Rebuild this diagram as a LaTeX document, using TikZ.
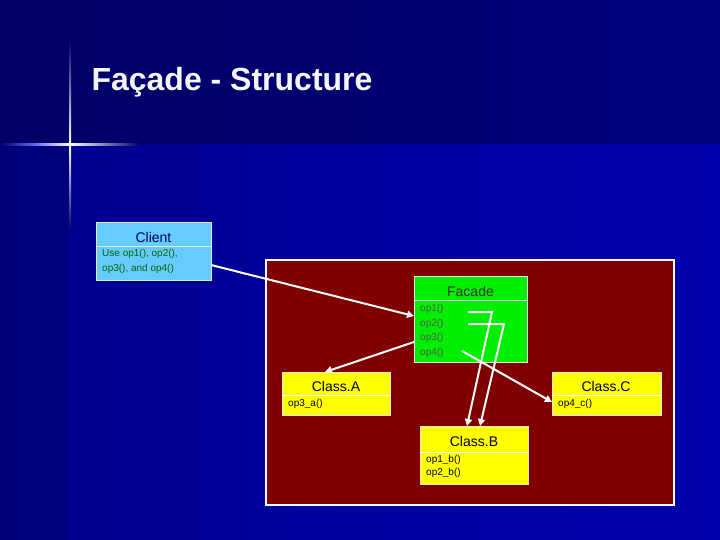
\documentclass[tikz,border=0pt]{standalone}
\usepackage{fontspec}
\setmainfont{Liberation Sans}
\usetikzlibrary{arrows.meta}
\definecolor{navy}{HTML}{000066}
\definecolor{bluebg}{HTML}{0000A0}
\definecolor{frame}{HTML}{800000}
\definecolor{clientc}{HTML}{66CCFF}
\definecolor{greenc}{HTML}{00EE00}
\definecolor{yell}{HTML}{FFFF00}
\tikzset{
  box/.style={draw=white!80!gray, line width=0.8pt},
  hdr/.style={font=\fontsize{14}{16}\selectfont, anchor=center},
  ops/.style={font=\fontsize{10}{14.5}\selectfont, anchor=north west, align=left, inner sep=0pt},
  conn/.style={draw=white, line width=2pt, -{Triangle[length=7pt,width=7pt]}},
}
\begin{document}
\begin{tikzpicture}[x=1pt,y=-1pt]
\useasboundingbox (0,0) rectangle (720,540);
\shade[left color=navy, right color=navy!85!blue] (0,0) rectangle (720,145);
\shade[left color=bluebg!70!navy, right color=bluebg!85!blue] (0,145) rectangle (720,540);
\fill[navy!80!black, opacity=0.35] (0,145) rectangle (68,540);
\shade[left color=navy, right color=white, middle color=blue!60] (0,144) rectangle (70,146);
\shade[left color=white, right color=navy] (70,144) rectangle (140,146);
\shade[top color=navy, bottom color=white] (69,40) rectangle (71,145);
\shade[top color=white, bottom color=navy] (69,145) rectangle (71,230);
\node[anchor=west, text=white!93!gray, font=\fontsize{32}{36}\selectfont\bfseries] (title) at (88,82) {Façade - Structure};
% frame
\node[draw=white, line width=2pt, fill=frame, minimum width=408, minimum height=245, anchor=north west, inner sep=0pt] (frm) at (265,259) {};
% client
\node[box, fill=clientc, minimum width=115, minimum height=58, anchor=north west, inner sep=0pt] (client) at (96,222) {};
\draw[white!80!gray] (96,246) -- (211,246);
\node[hdr, text=navy] (clientt) at (153.5,237) {Client};
\node[ops, text=green!40!black, font=\fontsize{10}{15}\selectfont] (clientb) at (102,249) {Use op1(), op2(),\\op3(), and op4()};
% facade
\node[box, fill=greenc, minimum width=113, minimum height=86, anchor=north west, inner sep=0pt] (fac) at (414,276) {};
\draw[white!80!gray] (414,300) -- (527,300);
\node[hdr, text=black!80] (fact) at (470.5,291) {Facade};
\node[ops, text=gray!70!black, font=\fontsize{10}{14.7}\selectfont] (facb) at (420,304) {op1()\\op2()\\op3()\\op4()};
% class A
\node[box, fill=yell, minimum width=108, minimum height=43, anchor=north west, inner sep=0pt] (ca) at (282,372) {};
\draw[white] (282,395) -- (390,395);
\node[hdr] (cat) at (336,386) {Class.A};
\node[ops] (cab) at (288,399) {op3\_a()};
% class C
\node[box, fill=yell, minimum width=109, minimum height=43, anchor=north west, inner sep=0pt] (cc) at (552,372) {};
\draw[white] (552,395) -- (661,395);
\node[hdr] (cct) at (606,386) {Class.C};
\node[ops] (ccb) at (558,399) {op4\_c()};
% class B
\node[box, fill=yell, minimum width=108, minimum height=58, anchor=north west, inner sep=0pt] (cb) at (420,426) {};
\draw[white] (420,452) -- (528,452);
\node[hdr] (cbt) at (474,441) {Class.B};
\node[ops, font=\fontsize{10}{13.5}\selectfont] (cbb) at (426,455) {op1\_b()\\op2\_b()};
% connectors
\coordinate (c1) at (211,265);
\coordinate (f1) at (414,316);
\draw[conn] (c1) -- (f1);
\coordinate (f3) at (414,342);
\coordinate (a1) at (325,372);
\draw[conn] (f3) -- (a1);
\coordinate (o1) at (468,312); \coordinate (o1r) at (492,312); \coordinate (b1) at (467,426);
\draw[conn] (o1) -- (o1r) -- (b1);
\coordinate (o2) at (468,324); \coordinate (o2r) at (504,324); \coordinate (b2) at (480,426);
\draw[conn] (o2) -- (o2r) -- (b2);
\coordinate (o4) at (462,351); \coordinate (c4) at (552,402);
\draw[conn] (o4) -- (c4);
\end{tikzpicture}
\end{document}
